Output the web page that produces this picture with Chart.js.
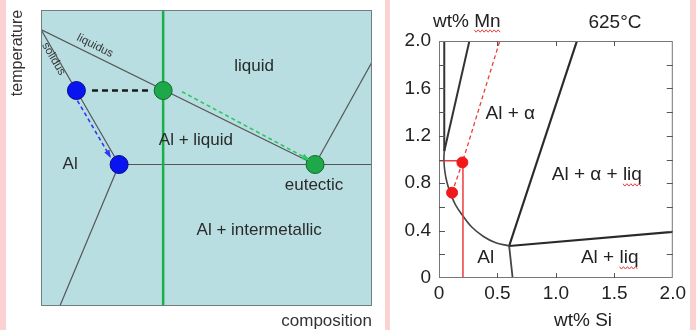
<!DOCTYPE html>
<html>
<head>
<meta charset="utf-8">
<script src="https://cdn.jsdelivr.net/npm/chart.js@4.4.1/dist/chart.umd.min.js"></script>
<style>
  html, body { margin: 0; padding: 0; }
  body { width: 696px; height: 330px; background: #fbd2d2; position: relative; overflow: hidden; }
  .panel { position: absolute; top: 0; height: 330px; background: #fff; }
  #leftPanel { left: 6px; width: 379px; }
  #rightPanel { left: 390px; width: 300px; }
</style>
</head>
<body>
<div class="panel" id="leftPanel"><canvas id="schemeChart" width="379" height="330"></canvas></div>
<div class="panel" id="rightPanel"><canvas id="sectionChart" width="300" height="330"></canvas></div>
<script>
const FONT = '"Liberation Sans", Arial, sans-serif';

// --- schematic diagram (composition %, temperature %) ---
const liquidusLine = [{x: 0, y: 93.4}, {x: 82.8, y: 47.8}];
const solidusLine = [{x: 0, y: 93.4}, {x: 23.6, y: 47.8}];
const eutecticLine = [{x: 23.6, y: 47.8}, {x: 100, y: 47.8}];
const rightLiquidus = [{x: 82.8, y: 47.8}, {x: 100, y: 82.4}];
const solvusLine = [{x: 23.6, y: 47.8}, {x: 5.7, y: 0}];
const alloyLine = [{x: 36.9, y: 0}, {x: 36.9, y: 100}];
const tieLine = [{x: 15.4, y: 72.8}, {x: 33.5, y: 72.8}];
const solidPath = [{x: 11.0, y: 69.4}, {x: 20.8, y: 50.6}];
const liquidPath = [{x: 42.6, y: 72.4}, {x: 80.7, y: 49.6}];
const bluePoints = [{x: 10.7, y: 72.8}, {x: 23.6, y: 47.8}];
const greenPoints = [{x: 36.9, y: 72.8}, {x: 82.8, y: 47.8}];
const schemeLabels = [
    {text: 'liquid', x: 64.4, y: 81.1},
    {text: 'Al + liquid', x: 46.8, y: 56.1},
    {text: 'Al', x: 8.8, y: 47.8},
    {text: 'eutectic', x: 82.5, y: 40.9},
    {text: 'Al + intermetallic', x: 65.9, y: 25.6}
];

// --- isothermal section 625°C (wt% Si, wt% Mn) ---
const siTicks = [0, 0.5, 1.0, 1.5, 2.0];
const mnTicks = [0, 0.4, 0.8, 1.2, 1.6, 2.0];
const siMinorTicks = [0.5, 1.0, 1.5];
const mnMinorTicks = [0.2, 0.4, 0.6, 0.8, 1.0, 1.2, 1.4, 1.6, 1.8];
const alphaSolvus = [{x: 0.045, y: 2.0}, {x: 0.045, y: 1.07}];
const alphaBoundary = [{x: 0.045, y: 1.07}, {x: 0.26, y: 2.0}];
const alCurve = [
    {x: 0.045, y: 1.07}, {x: 0.042, y: 1.0}, {x: 0.05, y: 0.9}, {x: 0.07, y: 0.8},
    {x: 0.1, y: 0.71}, {x: 0.14, y: 0.62}, {x: 0.2, y: 0.53}, {x: 0.28, y: 0.43},
    {x: 0.38, y: 0.35}, {x: 0.48, y: 0.3}, {x: 0.6, y: 0.27}
];
const liqLow = [{x: 0.6, y: 0.27}, {x: 0.63, y: 0}];
const alphaLiq = [{x: 0.6, y: 0.27}, {x: 1.18, y: 2.0}];
const liqAl = [{x: 0.6, y: 0.27}, {x: 2.0, y: 0.39}];
const redTieLine = [{x: 0.112, y: 0.72}, {x: 0.2, y: 0.975}, {x: 0.52, y: 2.0}];
const alloyMarker = [{x: 0, y: 0.99}, {x: 0.205, y: 0.99}, {x: 0.205, y: 0}];
const redPoints = [{x: 0.112, y: 0.72}, {x: 0.2, y: 0.975}];
const sectionLabels = [
    {text: 'Al + \u03b1', x: 0.61, y: 1.39},
    {text: 'Al + \u03b1 + liq', x: 1.35, y: 0.87, wavy: 'liq'},
    {text: 'Al', x: 0.40, y: 0.17},
    {text: 'Al + liq', x: 1.46, y: 0.17, wavy: 'liq'}
];

function line(data, color, width, extra) {
    return Object.assign({data: data, showLine: true, borderColor: color, borderWidth: width,
        pointRadius: 0, fill: false, tension: 0, order: 5}, extra || {});
}

function squiggle(ctx, x1, x2, y) {
    ctx.save();
    ctx.strokeStyle = '#e04040';
    ctx.lineWidth = 1;
    ctx.beginPath();
    let i = 0;
    for (let x = x1; x <= x2; x += 2, i++) {
        const yy = y + (i % 2 ? 1.2 : -1.2);
        if (i === 0) ctx.moveTo(x, yy); else ctx.lineTo(x, yy);
    }
    ctx.stroke();
    ctx.restore();
}

// light blue box + frame + labels for the schematic
const schemeDecor = {
    id: 'schemeDecor',
    beforeDraw(chart) {
        const a = chart.chartArea, ctx = chart.ctx;
        ctx.save();
        ctx.fillStyle = '#b9dee1';
        ctx.fillRect(a.left, a.top, a.right - a.left, a.bottom - a.top);
        ctx.restore();
    },
    afterDatasetsDraw(chart) {
        const ctx = chart.ctx, xs = chart.scales.x, ys = chart.scales.y;
        ctx.save();
        // arrow heads
        chart.data.datasets.forEach(ds => {
            if (!ds.arrow) return;
            const p0 = ds.data[ds.data.length - 2], p1 = ds.data[ds.data.length - 1];
            const x0 = xs.getPixelForValue(p0.x), y0 = ys.getPixelForValue(p0.y);
            const x1 = xs.getPixelForValue(p1.x), y1 = ys.getPixelForValue(p1.y);
            const ang = Math.atan2(y1 - y0, x1 - x0);
            ctx.fillStyle = ds.borderColor;
            ctx.beginPath();
            ctx.moveTo(x1 + 2 * Math.cos(ang), y1 + 2 * Math.sin(ang));
            ctx.lineTo(x1 - 6 * Math.cos(ang) + 3 * Math.sin(ang), y1 - 6 * Math.sin(ang) - 3 * Math.cos(ang));
            ctx.lineTo(x1 - 6 * Math.cos(ang) - 3 * Math.sin(ang), y1 - 6 * Math.sin(ang) + 3 * Math.cos(ang));
            ctx.closePath();
            ctx.fill();
        });
        ctx.restore();
    },
    afterDraw(chart) {
        const a = chart.chartArea, ctx = chart.ctx, xs = chart.scales.x, ys = chart.scales.y;
        ctx.save();
        ctx.strokeStyle = '#6f7f80';
        ctx.lineWidth = 1;
        ctx.strokeRect(a.left + 0.5, a.top + 0.5, a.right - a.left - 1, a.bottom - a.top - 1);

        ctx.fillStyle = '#2a2a2a';
        ctx.font = '17px ' + FONT;
        ctx.textAlign = 'center';
        ctx.textBaseline = 'middle';
        schemeLabels.forEach(l => ctx.fillText(l.text, xs.getPixelForValue(l.x), ys.getPixelForValue(l.y)));

        // curve names along the lines
        ctx.font = '11.5px ' + FONT;
        ctx.fillStyle = '#333';
        ctx.save();
        ctx.translate(xs.getPixelForValue(16.3), ys.getPixelForValue(87.9));
        ctx.rotate(Math.atan2(137, 274));
        ctx.fillText('liquidus', 0, 0);
        ctx.restore();
        ctx.save();
        ctx.translate(xs.getPixelForValue(3.8), ys.getPixelForValue(83.5));
        ctx.rotate(Math.atan2(62, 36));
        ctx.fillText('solidus', 0, 0);
        ctx.restore();

        // axis names
        ctx.font = '16px ' + FONT;
        ctx.fillStyle = '#333';
        ctx.save();
        ctx.translate(12, 53);
        ctx.rotate(-Math.PI / 2);
        ctx.fillText('temperature', 0, 0);
        ctx.restore();
        ctx.font = '17px ' + FONT;
        ctx.textAlign = 'right';
        ctx.fillText('composition', 366, 321);
        ctx.restore();
    }
};

new Chart(document.getElementById('schemeChart'), {
    type: 'scatter',
    data: {
        datasets: [
            {data: greenPoints, pointRadius: 9, pointBackgroundColor: '#1fa84a', pointBorderColor: '#0d6b2b', pointBorderWidth: 1, order: 0},
            {data: bluePoints, pointRadius: 9, pointBackgroundColor: '#0a14f0', pointBorderColor: '#06108a', pointBorderWidth: 1, order: 0},
            line(alloyLine, '#19b046', 2.5, {order: 1}),
            line(tieLine, '#1a1a1a', 2.5, {borderDash: [6, 4], order: 2}),
            line(solidPath, '#2a3cf0', 1.6, {borderDash: [4, 3], arrow: true, order: 2}),
            line(liquidPath, '#2ec764', 1.6, {borderDash: [4, 3], arrow: true, order: 2}),
            line(liquidusLine, '#555', 1.2),
            line(solidusLine, '#555', 1.2),
            line(eutecticLine, '#555', 1.2),
            line(rightLiquidus, '#555', 1.2),
            line(solvusLine, '#555', 1.2)
        ]
    },
    options: {
        responsive: false,
        animation: false,
        events: [],
        layout: {padding: {left: 35, right: 13, top: 5, bottom: 24}},
        plugins: {legend: {display: false}, tooltip: {enabled: false}},
        scales: {
            x: {type: 'linear', min: 0, max: 100, display: false},
            y: {type: 'linear', min: 0, max: 100, display: false}
        }
    },
    plugins: [schemeDecor]
});

// frame, inward ticks and texts for the section
const sectionDecor = {
    id: 'sectionDecor',
    afterDraw(chart) {
        const a = chart.chartArea, ctx = chart.ctx, xs = chart.scales.x, ys = chart.scales.y;
        ctx.save();
        ctx.strokeStyle = '#777';
        ctx.lineWidth = 1;
        ctx.strokeRect(a.left + 0.5, a.top + 0.5, a.right - a.left - 1, a.bottom - a.top - 1);
        ctx.strokeStyle = '#555';
        ctx.beginPath();
        siMinorTicks.forEach(v => {
            const px = Math.round(xs.getPixelForValue(v)) + 0.5;
            ctx.moveTo(px, a.bottom); ctx.lineTo(px, a.bottom - 5);
            ctx.moveTo(px, a.top); ctx.lineTo(px, a.top + 5);
        });
        mnMinorTicks.forEach(v => {
            const py = Math.round(ys.getPixelForValue(v)) + 0.5;
            ctx.moveTo(a.left, py); ctx.lineTo(a.left + 6, py);
            ctx.moveTo(a.right, py); ctx.lineTo(a.right - 6, py);
        });
        ctx.stroke();

        ctx.fillStyle = '#222';
        ctx.font = '19px ' + FONT;
        ctx.textBaseline = 'middle';
        ctx.textAlign = 'center';
        sectionLabels.forEach(l => {
            const cx = xs.getPixelForValue(l.x), cy = ys.getPixelForValue(l.y);
            ctx.fillText(l.text, cx, cy);
            if (l.wavy) {
                const w = ctx.measureText(l.text).width;
                const start = cx - w / 2 + ctx.measureText(l.text.slice(0, l.text.indexOf(l.wavy))).width;
                squiggle(ctx, start, start + ctx.measureText(l.wavy).width, cy + 10);
            }
        });
        ctx.textAlign = 'left';
        ctx.fillText('wt% Mn', 43, 22);
        squiggle(ctx, 43 + ctx.measureText('wt% ').width, 43 + ctx.measureText('wt% Mn').width, 31);
        ctx.textAlign = 'center';
        ctx.fillText('625\u00b0C', 225, 23);
        ctx.fillText('wt% Si', 193, 321);
        ctx.restore();
    }
};

const tickFmt = v => (v === 0 ? '0' : v.toFixed(1));

new Chart(document.getElementById('sectionChart'), {
    type: 'scatter',
    data: {
        datasets: [
            {data: redPoints, pointRadius: 5.5, pointBackgroundColor: '#f01818', pointBorderColor: '#f01818', order: 0},
            line(redTieLine, '#f03a3a', 1.3, {borderDash: [4, 3], order: 1}),
            line(alloyMarker, '#f03a3a', 1.5, {order: 1}),
            line(alphaSolvus, '#333', 2),
            line(alphaBoundary, '#333', 2),
            line(alCurve, '#444', 1.6, {tension: 0.35}),
            line(liqLow, '#444', 1.8),
            line(alphaLiq, '#2a2a2a', 2.2),
            line(liqAl, '#2a2a2a', 2.2)
        ]
    },
    options: {
        responsive: false,
        animation: false,
        events: [],
        layout: {padding: {left: 0, right: 12, top: 41, bottom: 0}},
        plugins: {legend: {display: false}, tooltip: {enabled: false}},
        scales: {
            x: {
                type: 'linear', min: 0, max: 2,
                afterBuildTicks: s => { s.ticks = siTicks.map(v => ({value: v})); },
                afterFit: s => { s.height = 52; },
                ticks: {callback: tickFmt, color: '#222', font: {size: 19, family: FONT}, padding: 4, maxRotation: 0, autoSkip: false},
                grid: {display: false, drawTicks: false},
                border: {display: false}
            },
            y: {
                type: 'linear', min: 0, max: 2,
                afterBuildTicks: s => { s.ticks = mnTicks.map(v => ({value: v})); },
                afterFit: s => { s.width = 49; },
                ticks: {callback: tickFmt, color: '#222', font: {size: 19, family: FONT}, padding: 8, autoSkip: false},
                grid: {display: false, drawTicks: false},
                border: {display: false}
            }
        }
    },
    plugins: [sectionDecor]
});
</script>
</body>
</html>
